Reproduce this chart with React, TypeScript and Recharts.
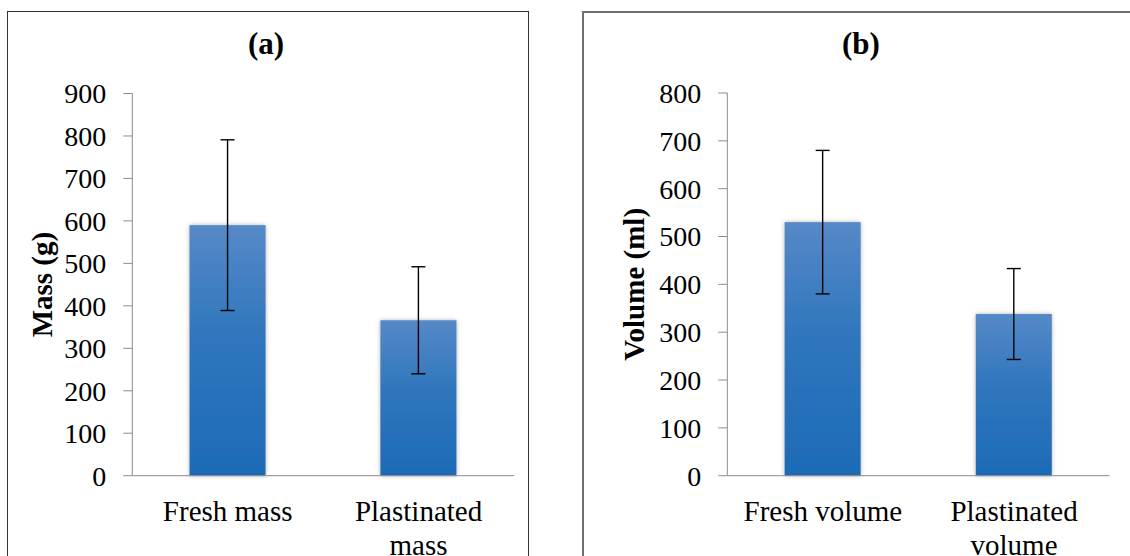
import React from 'react';
import { BarChart, Bar, XAxis, YAxis, ErrorBar } from 'recharts';

const FONT = '"Liberation Serif", "Times New Roman", Times, serif';

// Panel (a): mass
const massCategories = ['Fresh mass', 'Plastinated mass'];
const massMeans = [590, 366];
const massErrors = [201, 126];
const massTicks = [0, 100, 200, 300, 400, 500, 600, 700, 800, 900];

// Panel (b): volume
const volumeCategories = ['Fresh volume', 'Plastinated volume'];
const volumeMeans = [530, 338];
const volumeErrors = [150, 95];
const volumeTicks = [0, 100, 200, 300, 400, 500, 600, 700, 800];

const boundaryTicks = [0, 1, 2];

const massData = massCategories.map((name, i) => ({ name, value: massMeans[i], err: massErrors[i] }));
const volumeData = volumeCategories.map((name, i) => ({ name, value: volumeMeans[i], err: volumeErrors[i] }));

const CatTick = (props: any) => {
  const { x, y, payload } = props;
  const text: string = String(payload.value);
  const sp = text.lastIndexOf(' ');
  const lines = text.length > 12 && sp > 0 ? [text.slice(0, sp), text.slice(sp + 1)] : [text];
  return (
    <text x={x} y={y} textAnchor="middle" fontFamily={FONT} fontSize={29} fill="#000">
      {lines.map((l, i) => (
        <tspan key={i} x={x} dy={i === 0 ? 0 : '1.17em'}>
          {l}
        </tspan>
      ))}
    </text>
  );
};

const makeYTitle = (text: string, dx: number) => (props: any) => {
  const vb = props.viewBox || { x: 0, y: 0, width: 0, height: 0 };
  const cx = vb.x + dx;
  const cy = vb.y + vb.height / 2;
  return (
    <text
      x={cx}
      y={cy}
      transform={`rotate(-90 ${cx} ${cy})`}
      textAnchor="middle"
      dominantBaseline="central"
      fontFamily={FONT}
      fontWeight="bold"
      fontSize={29}
      fill="#000"
    >
      {text}
    </text>
  );
};

const AXIS_GRAY = '#8c8c8c';

type PanelProps = {
  id: string;
  data: { name: string; value: number; err: number }[];
  ticks: number[];
  title: string;
  yTitle: string;
  width: number;
  margin: { top: number; right: number; bottom: number; left: number };
  titleX: number;
  yTitleDx: number;
};

const Panel = ({ id, data, ticks, title, yTitle, width, margin, titleX, yTitleDx }: PanelProps) => (
  <BarChart width={width} height={556} data={data} margin={margin} barCategoryGap="30%">
    <defs>
      <linearGradient id={`grad-${id}`} x1="0" y1="0" x2="0" y2="1">
        <stop offset="0%" stopColor="#5689c8" />
        <stop offset="45%" stopColor="#2f76bd" />
        <stop offset="100%" stopColor="#1d6bb6" />
      </linearGradient>
      <filter id={`shadow-${id}`} x="-20%" y="-5%" width="140%" height="110%">
        <feDropShadow dx="0" dy="0" stdDeviation="2.2" floodColor="#7a7a7a" floodOpacity="0.6" />
      </filter>
    </defs>
    <text
      x={titleX}
      y={54}
      textAnchor="middle"
      fontFamily={FONT}
      fontWeight="bold"
      fontSize={31}
      fill="#000"
    >
      {title}
    </text>
    <XAxis
      xAxisId="bounds"
      type="number"
      domain={[0, 2]}
      ticks={boundaryTicks}
      tick={false}
      tickSize={7}
      height={1}
      axisLine={{ stroke: AXIS_GRAY }}
      tickLine={{ stroke: AXIS_GRAY }}
    />
    <XAxis
      xAxisId="cat"
      dataKey="name"
      type="category"
      height={60}
      axisLine={false}
      tickLine={false}
      tickSize={0}
      tickMargin={44}
      tick={<CatTick />}
      interval={0}
    />
    <YAxis
      type="number"
      domain={[0, ticks[ticks.length - 1]]}
      ticks={ticks}
      width={80}
      tickSize={9}
      tickMargin={17}
      axisLine={{ stroke: AXIS_GRAY }}
      tickLine={{ stroke: AXIS_GRAY }}
      tick={{ fill: '#000', fontSize: 28, fontFamily: FONT }}
      label={{ content: makeYTitle(yTitle, yTitleDx) }}
    />
    <Bar
      xAxisId="cat"
      dataKey="value"
      isAnimationActive={false}
      fill={`url(#grad-${id})`}
      shape={(p: any) => (
        <rect
          x={p.x}
          y={p.y}
          width={p.width}
          height={p.height}
          fill={`url(#grad-${id})`}
          filter={`url(#shadow-${id})`}
        />
      )}
    >
      <ErrorBar dataKey="err" direction="y" width={7} stroke="#000" strokeWidth={1.4} />
    </Bar>
  </BarChart>
);

export default function App() {
  return (
    <div
      style={{
        position: 'absolute',
        left: 0,
        top: 0,
        width: 1130,
        height: 556,
        overflow: 'hidden',
        background: '#fff',
      }}
    >
      <div
        style={{
          position: 'absolute',
          left: 7,
          top: 11,
          width: 522,
          height: 700,
          border: '1px solid #333',
          boxSizing: 'border-box',
        }}
      />
      <div
        style={{
          position: 'absolute',
          left: 582,
          top: 11,
          width: 700,
          height: 700,
          border: '2px solid #6e6e6e',
          boxSizing: 'border-box',
        }}
      />
      <div style={{ position: 'absolute', left: 0, top: 0 }}>
        <Panel
          id="a"
          data={massData}
          ticks={massTicks}
          title="(a)"
          yTitle="Mass (g)"
          width={540}
          margin={{ top: 93.5, right: 26, bottom: 19.3, left: 52.3 }}
          titleX={266}
          yTitleDx={-10}
        />
      </div>
      <div style={{ position: 'absolute', left: 570, top: 0 }}>
        <Panel
          id="b"
          data={volumeData}
          ticks={volumeTicks}
          title="(b)"
          yTitle="Volume (ml)"
          width={560}
          margin={{ top: 93, right: 20.4, bottom: 19.3, left: 77.3 }}
          titleX={291}
          yTitleDx={-13}
        />
      </div>
    </div>
  );
}
